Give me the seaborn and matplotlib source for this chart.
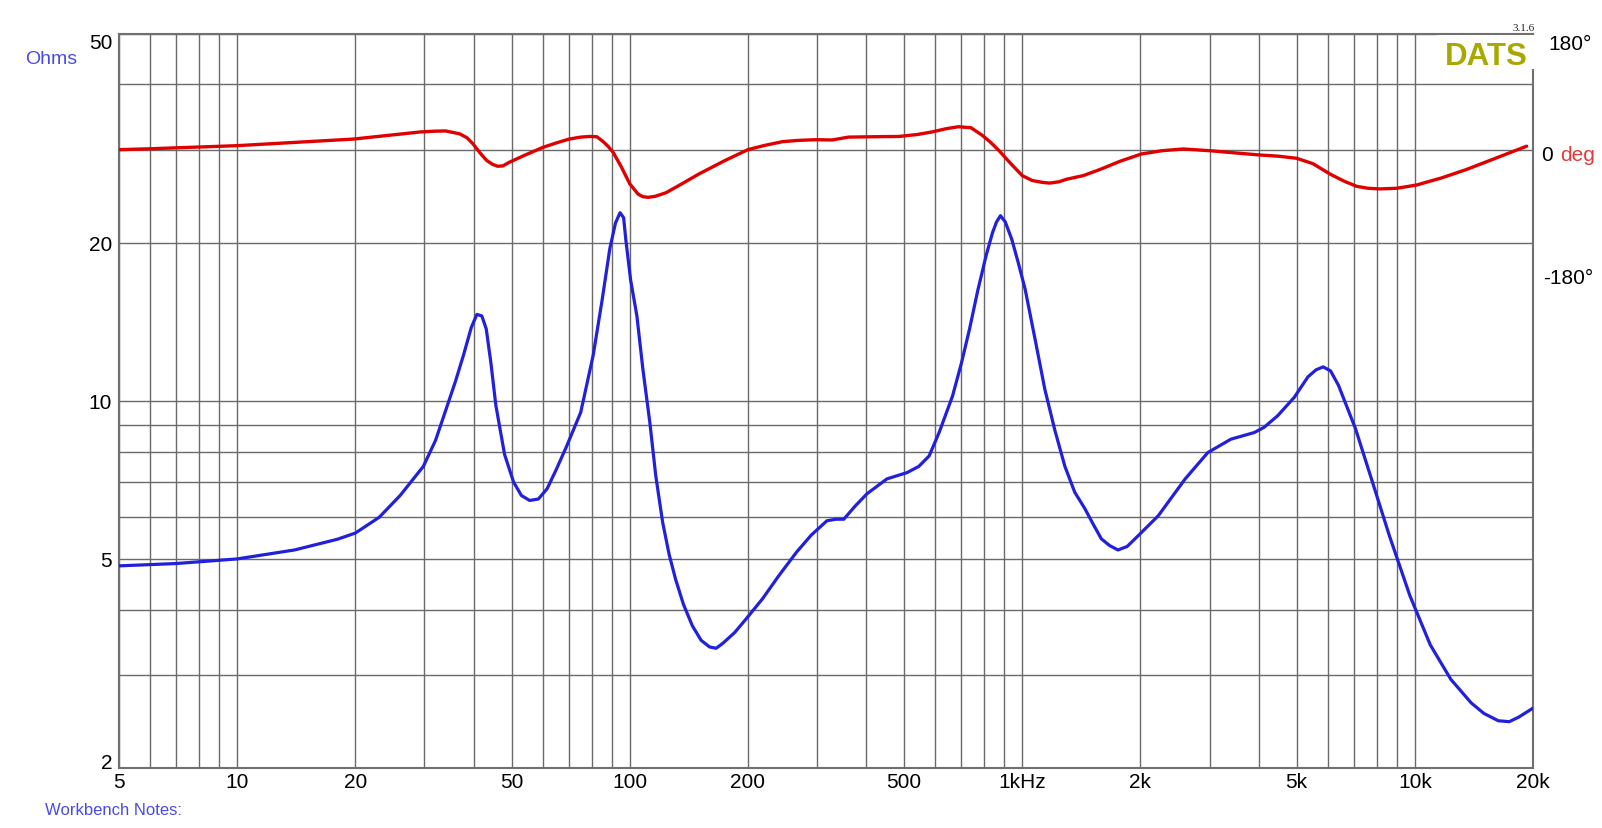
import numpy as np
import pandas as pd
import matplotlib
matplotlib.use("Agg")
import matplotlib.pyplot as plt
from matplotlib.ticker import FixedLocator, FixedFormatter, NullFormatter
from matplotlib.patches import Rectangle
import seaborn as sns

# ---------------- data ----------------
imp_freq = [5, 7, 10, 14, 18, 20, 23, 26, 29.8, 32, 34, 36, 37.7, 39.5, 40.8, 42, 43.1, 44.3, 45.6,
            48, 50.6, 53, 55.6, 58.5, 61.6, 65, 69.1, 75, 80.7, 85, 89, 92, 94.5, 96.5, 97.7,
            100.5, 104.3, 108, 112.5, 116.5, 121.3, 126, 130.8, 137, 144.4, 152, 159.7, 166,
            172.3, 185, 197.7, 218, 240, 266, 290, 318, 335, 351, 375, 402, 452, 509, 545, 579,
            614, 664, 700, 734, 770, 809, 840, 860, 880, 905, 940, 975, 1017, 1080, 1142, 1210,
            1284, 1360, 1444, 1520, 1590, 1670, 1753, 1850, 1976, 2220, 2600, 2970, 3400, 3900,
            4130, 4470, 4930, 5340, 5600, 5840, 6100, 6390, 7060, 7800, 8610, 9710, 10950,
            12350, 13920, 15000, 16320, 17400, 18400, 20000]
imp_ohm = [4.85, 4.9, 5.0, 5.2, 5.45, 5.6, 6.0, 6.6, 7.5, 8.4, 9.6, 10.9, 12.2, 13.8, 14.6, 14.5,
           13.7, 11.8, 9.8, 7.9, 7.0, 6.6, 6.46, 6.5, 6.8, 7.4, 8.2, 9.5, 12.2, 15.5, 19.5, 21.8,
           22.8, 22.3, 20.3, 17.0, 14.5, 11.5, 9.1, 7.2, 5.87, 5.1, 4.58, 4.1, 3.73, 3.5, 3.40,
           3.38, 3.45, 3.62, 3.84, 4.2, 4.65, 5.15, 5.55, 5.91, 5.95, 5.95, 6.3, 6.65, 7.1, 7.3,
           7.5, 7.85, 8.7, 10.2, 11.8, 13.7, 16.2, 18.9, 20.9, 21.9, 22.5, 21.9, 20.3, 18.4, 16.3,
           13.0, 10.5, 8.8, 7.5, 6.7, 6.23, 5.8, 5.46, 5.3, 5.2, 5.28, 5.54, 6.04, 7.1, 7.97, 8.45,
           8.7, 8.9, 9.36, 10.15, 11.1, 11.45, 11.6, 11.4, 10.7, 8.85, 7.0, 5.54, 4.26, 3.43,
           2.95, 2.66, 2.54, 2.46, 2.45, 2.5, 2.6]

ph_freq = [5, 6, 10, 19.8, 29.3, 32, 34, 36.9, 38.5, 39.9, 41.5, 43.2, 44.7, 46.1, 47.5, 49.3,
           54, 60, 65, 70.1, 75, 79, 82.5, 85.6, 88, 90.7, 95, 100, 105, 108, 111.3, 116, 123.6,
           135, 150, 175, 200, 220, 245, 270, 298, 328, 361, 420, 485, 540, 589, 640, 687, 740,
           790, 830, 873, 935, 1000, 1060, 1127, 1175, 1240, 1298, 1429, 1577, 1780, 2013, 2270,
           2570, 3004, 3500, 4027, 4500, 5000, 5500, 6080, 6600, 7110, 7600, 8150, 9000, 10100,
           11700, 13540, 16000, 19270]
ph_deg = [0.6, 2, 6.8, 17, 28, 29.2, 29.5, 25, 19, 9.4, -4, -16, -22, -25, -24.5, -19,
          -8, 4, 11, 17, 20, 21, 20.5, 13, 6, -3.4, -25, -52, -68, -72, -73, -71.5, -66,
          -53, -37, -16, 0.6, 7, 13, 15, 16, 15.6, 20, 20.6, 21, 24, 28, 33, 36, 34.5,
          23, 12, -1, -21, -39.5, -47, -50, -51, -49, -45, -39.5, -30, -17, -6, -1,
          1.7, -1, -4.5, -7.6, -9.5, -12.7, -21, -37, -48, -56, -59, -60, -59, -54,
          -43, -30, -13, 6]

x_major = [5, 10, 20, 50, 100, 200, 500, 1000, 2000, 5000, 10000, 20000]
x_major_labels = ["5", "10", "20", "50", "100", "200", "500", "1kHz", "2k", "5k", "10k", "20k"]
x_minor = [6, 7, 8, 9, 30, 40, 60, 70, 80, 90, 300, 400, 600, 700, 800, 900,
           3000, 4000, 6000, 7000, 8000, 9000]
y_major = [2, 5, 10, 20, 50]
y_major_labels = ["2", "5", "10", "20", "50"]
y_minor = [3, 4, 6, 7, 8, 9, 30, 40]

imp_df = pd.DataFrame({"freq": imp_freq, "ohm": imp_ohm})
ph_df = pd.DataFrame({"freq": ph_freq, "deg": ph_deg})

# ---------------- figure ----------------
sns.set_style("white")
plt.rcParams["font.family"] = ["Liberation Sans", "DejaVu Sans"]

W, H = 1602, 829
fig = plt.figure(figsize=(W / 100, H / 100), dpi=100)
L, R, T, B = 119, 1533, 34.5, 769
ax = fig.add_axes([L / W, 1 - B / H, (R - L) / W, (B - T) / H])

def fx(x):
    return x / W

def fy(y):
    return 1 - y / H

grid_col = "#6a6a6a"

ax.set_xscale("log")
ax.set_yscale("log")

sns.lineplot(data=imp_df, x="freq", y="ohm", ax=ax, color="#2020dd", linewidth=2.3,
             estimator=None, sort=False, zorder=3)

# phase axis: 180 deg at top, 0 deg on the 30-ohm gridline
ax2 = ax.twinx()
sns.lineplot(data=ph_df, x="freq", y="deg", ax=ax2, color="#e00000", linewidth=2.4,
             estimator=None, sort=False, zorder=3)
frac0 = np.log(30 / 2) / np.log(50 / 2)
top = 180.0
bottom = top - 180.0 / (1 - frac0)
ax2.set_ylim(bottom, top)
ax2.set_yticks([])
ax2.set_ylabel("")
ax2.set_xlabel("")
for s in ax2.spines.values():
    s.set_visible(False)

ax.set_xlim(5, 20000)
ax.set_ylim(2, 50)
ax.xaxis.set_major_locator(FixedLocator(x_major))
ax.xaxis.set_major_formatter(FixedFormatter(x_major_labels))
ax.xaxis.set_minor_locator(FixedLocator(x_minor))
ax.xaxis.set_minor_formatter(NullFormatter())
ax.yaxis.set_major_locator(FixedLocator(y_major))
ax.yaxis.set_major_formatter(FixedFormatter(y_major_labels))
ax.yaxis.set_minor_locator(FixedLocator(y_minor))
ax.yaxis.set_minor_formatter(NullFormatter())

ax.grid(True, which="both", color=grid_col, linewidth=1.0)
ax.tick_params(which="both", length=0)
ax.tick_params(axis="x", pad=3, labelsize=15, labelcolor="black")
ax.tick_params(axis="y", pad=5, labelsize=15, labelcolor="black")
ax.set_xlabel("")
ax.set_ylabel("")
for s in ax.spines.values():
    s.set_color("#707070")
    s.set_linewidth(1.5)
    s.set_visible(True)

# white box behind the DATS logo
box = Rectangle((fx(1437), fy(70)), (1545 - 1437) / W, (70 - 36) / H, transform=fig.transFigure,
                facecolor="white", edgecolor="none", zorder=10)
fig.patches.append(box)
fig.text(fx(1528), fy(65), "DATS", ha="right", va="baseline", fontsize=22.5,
         fontweight="bold", color="#a8a800", zorder=11)
fig.text(fx(1535), fy(31), "3.1.6", ha="right", va="baseline", fontsize=8,
         family=["Liberation Serif", "DejaVu Serif"], color="#222222", zorder=11)

# right-hand phase labels
fig.text(fx(1548), fy(50), "180°", ha="left", va="baseline", fontsize=15, color="black")
fig.text(fx(1541), fy(160.7), "0", ha="left", va="baseline", fontsize=15, color="black")
fig.text(fx(1560), fy(160.7), "deg", ha="left", va="baseline", fontsize=15, color="#e03a3a")
fig.text(fx(1543), fy(284), "-180°", ha="left", va="baseline", fontsize=15, color="black")

# left labels
fig.text(fx(25), fy(64), "Ohms", ha="left", va="baseline", fontsize=14, color="#4a4ae6")
fig.text(fx(45), fy(815), "Workbench Notes:", ha="left", va="baseline", fontsize=12,
         color="#4a4ae6")

# extreme y labels sit inside the axis range
for lab in ax.get_yticklabels():
    if lab.get_text() == "50":
        lab.set_va("top")
    elif lab.get_text() == "2":
        lab.set_va("baseline")

fig.savefig("out.png", dpi=100, facecolor="white")
